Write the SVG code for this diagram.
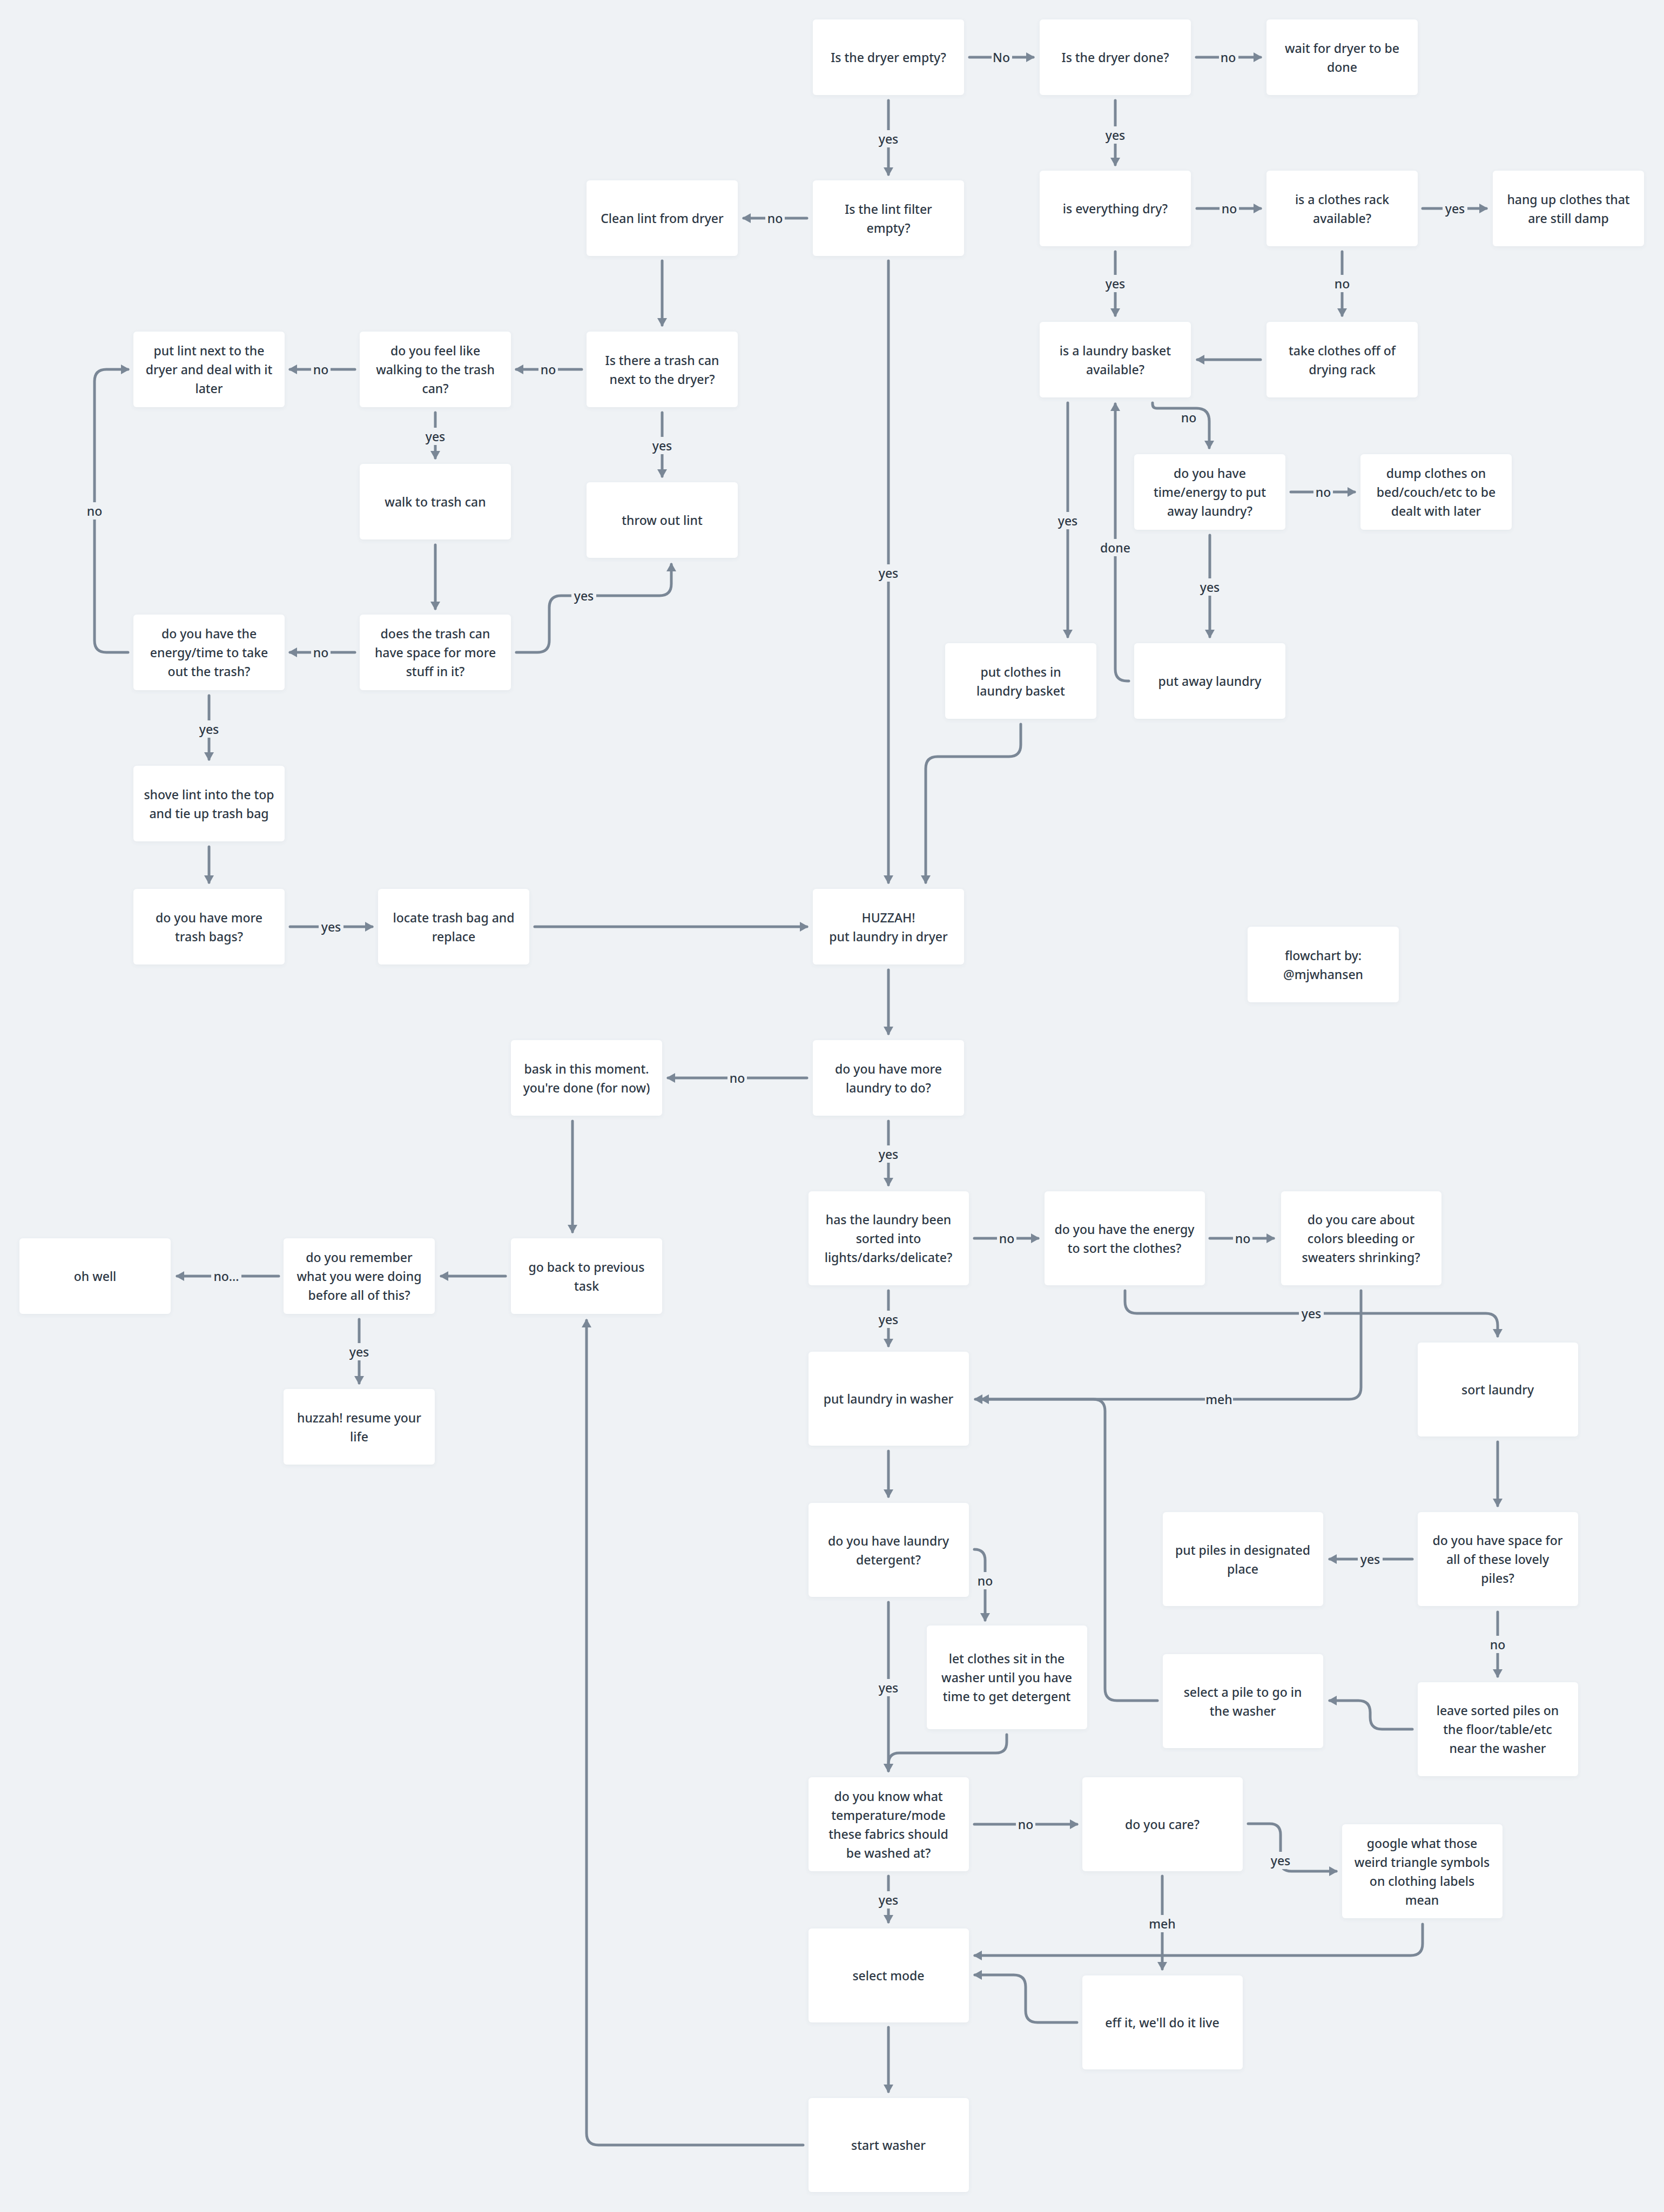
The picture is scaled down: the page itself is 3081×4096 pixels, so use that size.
<svg xmlns="http://www.w3.org/2000/svg" width="3081" height="4096" viewBox="0 0 3081 4096">
<defs>
  <style>
    .node rect { fill: #ffffff; filter: url(#sh); }
    .node text, .lbl text { font-family: "Noto Sans", "DejaVu Sans", sans-serif; font-size: 23px; font-weight: 500; fill: #2c3744; text-anchor: middle; dominant-baseline: central; }
    .edge { fill: none; stroke: #7a8796; stroke-width: 5; stroke-linecap: round; stroke-linejoin: round; marker-end: url(#ah); }
    .lbl rect { fill: #eff2f5; }
  </style>
  <filter id="sh" x="-10%" y="-10%" width="120%" height="130%">
    <feDropShadow dx="0" dy="2" stdDeviation="3" flood-color="#5a6b7c" flood-opacity="0.08"/>
  </filter>
  <marker id="ah" viewBox="0 0 16 20" refX="13" refY="10" markerWidth="16" markerHeight="20" markerUnits="userSpaceOnUse" orient="auto">
    <path d="M0,1 L16,10 L0,19 z" fill="#7a8796"/>
  </marker>
</defs>
<rect width="3081" height="4096" fill="#eff2f5"/>

<!-- connectors -->
<g id="connectors">
  <path class="edge" d="M1795 106 H1913"/>
  <path class="edge" d="M2215 106 H2334"/>
  <path class="edge" d="M1645 186 V323"/>
  <path class="edge" d="M2065 186 V305"/>
  <path class="edge" d="M1494 404 H1377"/>
  <path class="edge" d="M2216 386 H2334"/>
  <path class="edge" d="M2634 386 H2752"/>
  <path class="edge" d="M2485 466 V584"/>
  <path class="edge" d="M2065 466 V584"/>
  <path class="edge" d="M1226 483 V602"/>
  <path class="edge" d="M1645 483 V1634"/>
  <path class="edge" d="M1077 684 H956"/>
  <path class="edge" d="M657 684 H537"/>
  <path class="edge" d="M806 764 V848"/>
  <path class="edge" d="M1226 764 V882"/>
  <path class="edge" d="M806 1009 V1127"/>
  <path class="edge" d="M956 1208 H995 Q1017 1208 1017 1186 V1125 Q1017 1103 1039 1103 H1221 Q1243 1103 1243 1081 V1045"/>
  <path class="edge" d="M657 1208 H537"/>
  <path class="edge" d="M237 1208 H197 Q175 1208 175 1186 V706 Q175 684 197 684 H237"/>
  <path class="edge" d="M387 1288 V1406"/>
  <path class="edge" d="M387 1568 V1634"/>
  <path class="edge" d="M537 1716 H689"/>
  <path class="edge" d="M990 1716 H1494"/>
  <path class="edge" d="M2334 666 H2217"/>
  <path class="edge" d="M1977 746 V1179"/>
  <path class="edge" d="M2090 1261 H2087 Q2065 1261 2065 1239 V748"/>
  <path class="edge" d="M2134 746 V748 Q2134 756 2142 756 H2215 Q2239 756 2239 780 V829"/>
  <path class="edge" d="M2390 911 H2508"/>
  <path class="edge" d="M2240 991 V1179"/>
  <path class="edge" d="M1890 1341 V1379 Q1890 1401 1868 1401 H1736 Q1714 1401 1714 1423 V1634"/>
  <path class="edge" d="M1645 1796 V1914"/>
  <path class="edge" d="M1494 1996 H1237"/>
  <path class="edge" d="M1060 2076 V2281"/>
  <path class="edge" d="M936 2363 H817"/>
  <path class="edge" d="M516 2363 H328"/>
  <path class="edge" d="M665 2443 V2561"/>
  <path class="edge" d="M1645 2076 V2194"/>
  <path class="edge" d="M1804 2293 H1922"/>
  <path class="edge" d="M2240 2293 H2358"/>
  <path class="edge" d="M1645 2390 V2492"/>
  <path class="edge" d="M2083 2390 V2410 Q2083 2432 2105 2432 H2751 Q2773 2432 2773 2454 V2474"/>
  <path class="edge" d="M2520 2390 V2569 Q2520 2591 2498 2591 H1806"/>
  <path class="edge" d="M2143 3149 H2068 Q2046 3149 2046 3127 V2613 Q2046 2591 2024 2591 H1818"/>
  <path class="edge" d="M2773 2670 V2788"/>
  <path class="edge" d="M1645 2687 V2771"/>
  <path class="edge" d="M2615 2887 H2462"/>
  <path class="edge" d="M2773 2985 V3104"/>
  <path class="edge" d="M2615 3202 H2559 Q2537 3202 2537 3180 V3171 Q2537 3149 2515 3149 H2462"/>
  <path class="edge" d="M1645 2967 V3279"/>
  <path class="edge" d="M1804 2869 Q1824 2869 1824 2889 V3000"/>
  <path class="edge" d="M1864 3212 V3226 Q1864 3246 1844 3246 H1665 Q1645 3246 1645 3266 V3279"/>
  <path class="edge" d="M1804 3378 H1994"/>
  <path class="edge" d="M1645 3474 V3559"/>
  <path class="edge" d="M2311 3377 H2351 Q2371 3377 2371 3397 V3445 Q2371 3465 2391 3465 H2474"/>
  <path class="edge" d="M2152 3474 V3646"/>
  <path class="edge" d="M2634 3563 V3599 Q2634 3621 2612 3621 H1805"/>
  <path class="edge" d="M1994 3745 H1921 Q1899 3745 1899 3723 V3679 Q1899 3657 1877 3657 H1805"/>
  <path class="edge" d="M1645 3754 V3873"/>
  <path class="edge" d="M1487 3972 H1108 Q1086 3972 1086 3950 V2445"/>

  <!-- connector labels -->
  <g class="lbl"><rect x="1836" y="91" width="38" height="30"/><text x="1854" y="106">No</text></g>
  <g class="lbl"><rect x="2257" y="91" width="36" height="30"/><text x="2274" y="106">no</text></g>
  <g class="lbl"><rect x="1622" y="241" width="46" height="32"/><text x="1645" y="257">yes</text></g>
  <g class="lbl"><rect x="2042" y="234" width="46" height="32"/><text x="2065" y="250">yes</text></g>
  <g class="lbl"><rect x="1417" y="389" width="36" height="30"/><text x="1435" y="404">no</text></g>
  <g class="lbl"><rect x="2258" y="371" width="36" height="30"/><text x="2276" y="386">no</text></g>
  <g class="lbl"><rect x="2671" y="371" width="46" height="30"/><text x="2694" y="386">yes</text></g>
  <g class="lbl"><rect x="2467" y="509" width="36" height="32"/><text x="2485" y="525">no</text></g>
  <g class="lbl"><rect x="2042" y="509" width="46" height="32"/><text x="2065" y="525">yes</text></g>
  <g class="lbl"><rect x="1622" y="1045" width="46" height="32"/><text x="1645" y="1061">yes</text></g>
  <g class="lbl"><rect x="997" y="669" width="36" height="30"/><text x="1015" y="684">no</text></g>
  <g class="lbl"><rect x="576" y="669" width="36" height="30"/><text x="594" y="684">no</text></g>
  <g class="lbl"><rect x="783" y="792" width="46" height="32"/><text x="806" y="808">yes</text></g>
  <g class="lbl"><rect x="1203" y="809" width="46" height="32"/><text x="1226" y="825">yes</text></g>
  <g class="lbl"><rect x="1058" y="1088" width="46" height="30"/><text x="1081" y="1103">yes</text></g>
  <g class="lbl"><rect x="576" y="1193" width="36" height="30"/><text x="594" y="1208">no</text></g>
  <g class="lbl"><rect x="157" y="930" width="36" height="32"/><text x="175" y="946">no</text></g>
  <g class="lbl"><rect x="364" y="1334" width="46" height="32"/><text x="387" y="1350">yes</text></g>
  <g class="lbl"><rect x="590" y="1701" width="46" height="30"/><text x="613" y="1716">yes</text></g>
  <g class="lbl"><rect x="1954" y="948" width="46" height="32"/><text x="1977" y="964">yes</text></g>
  <g class="lbl"><rect x="2036" y="998" width="58" height="32"/><text x="2065" y="1014">done</text></g>
  <g class="lbl"><rect x="2182" y="759" width="38" height="30"/><text x="2201" y="773">no</text></g>
  <g class="lbl"><rect x="2432" y="896" width="36" height="30"/><text x="2450" y="911">no</text></g>
  <g class="lbl"><rect x="2217" y="1071" width="46" height="32"/><text x="2240" y="1087">yes</text></g>
  <g class="lbl"><rect x="1347" y="1981" width="36" height="30"/><text x="1365" y="1996">no</text></g>
  <g class="lbl"><rect x="391" y="2348" width="56" height="30"/><text x="419" y="2363">no...</text></g>
  <g class="lbl"><rect x="642" y="2487" width="46" height="32"/><text x="665" y="2503">yes</text></g>
  <g class="lbl"><rect x="1622" y="2121" width="46" height="32"/><text x="1645" y="2137">yes</text></g>
  <g class="lbl"><rect x="1846" y="2278" width="36" height="30"/><text x="1864" y="2293">no</text></g>
  <g class="lbl"><rect x="2283" y="2278" width="36" height="30"/><text x="2301" y="2293">no</text></g>
  <g class="lbl"><rect x="1622" y="2427" width="46" height="32"/><text x="1645" y="2443">yes</text></g>
  <g class="lbl"><rect x="2405" y="2417" width="46" height="30"/><text x="2428" y="2432">yes</text></g>
  <g class="lbl"><rect x="2231" y="2576" width="52" height="30"/><text x="2257" y="2591">meh</text></g>
  <g class="lbl"><rect x="2514" y="2872" width="46" height="30"/><text x="2537" y="2887">yes</text></g>
  <g class="lbl"><rect x="2755" y="3029" width="36" height="32"/><text x="2773" y="3045">no</text></g>
  <g class="lbl"><rect x="1622" y="3109" width="46" height="32"/><text x="1645" y="3125">yes</text></g>
  <g class="lbl"><rect x="1806" y="2911" width="36" height="32"/><text x="1824" y="2927">no</text></g>
  <g class="lbl"><rect x="1881" y="3363" width="36" height="30"/><text x="1899" y="3378">no</text></g>
  <g class="lbl"><rect x="2348" y="3429" width="46" height="32"/><text x="2371" y="3445">yes</text></g>
  <g class="lbl"><rect x="2126" y="3546" width="52" height="32"/><text x="2152" y="3562">meh</text></g>
  <g class="lbl"><rect x="1622" y="3502" width="46" height="32"/><text x="1645" y="3518">yes</text></g>
</g>

<!-- dryer section -->
<g id="n-dryer-empty" class="node"><rect x="1505" y="36" width="280" height="140" rx="6"/><text x="1645" y="106">Is the dryer empty?</text></g>
<g id="n-dryer-done" class="node"><rect x="1925" y="36" width="280" height="140" rx="6"/><text x="2065" y="106">Is the dryer done?</text></g>
<g id="n-wait-dryer" class="node"><rect x="2345" y="36" width="280" height="140" rx="6"/><text x="2485" y="88.5">wait for dryer to be</text><text x="2485" y="123.5">done</text></g>
<g id="n-lint-filter" class="node"><rect x="1505" y="334" width="280" height="140" rx="6"/><text x="1645" y="386.5">Is the lint filter</text><text x="1645" y="421.5">empty?</text></g>
<g id="n-clean-lint" class="node"><rect x="1086" y="334" width="280" height="140" rx="6"/><text x="1226" y="404">Clean lint from dryer</text></g>
<g id="n-everything-dry" class="node"><rect x="1925" y="316" width="280" height="140" rx="6"/><text x="2065" y="386">is everything dry?</text></g>
<g id="n-clothes-rack" class="node"><rect x="2345" y="316" width="280" height="140" rx="6"/><text x="2485" y="368.5">is a clothes rack</text><text x="2485" y="403.5">available?</text></g>
<g id="n-hang-up" class="node"><rect x="2764" y="316" width="280" height="140" rx="6"/><text x="2904" y="368.5">hang up clothes that</text><text x="2904" y="403.5">are still damp</text></g>
<g id="n-put-lint-next" class="node"><rect x="247" y="614" width="280" height="140" rx="6"/><text x="387" y="649">put lint next to the</text><text x="387" y="684">dryer and deal with it</text><text x="387" y="719">later</text></g>
<g id="n-feel-walking" class="node"><rect x="666" y="614" width="280" height="140" rx="6"/><text x="806" y="649">do you feel like</text><text x="806" y="684">walking to the trash</text><text x="806" y="719">can?</text></g>
<g id="n-trash-next" class="node"><rect x="1086" y="614" width="280" height="140" rx="6"/><text x="1226" y="666.5">Is there a trash can</text><text x="1226" y="701.5">next to the dryer?</text></g>
<g id="n-basket-available" class="node"><rect x="1925" y="596" width="280" height="140" rx="6"/><text x="2065" y="648.5">is a laundry basket</text><text x="2065" y="683.5">available?</text></g>
<g id="n-take-clothes" class="node"><rect x="2345" y="596" width="280" height="140" rx="6"/><text x="2485" y="648.5">take clothes off of</text><text x="2485" y="683.5">drying rack</text></g>
<g id="n-walk-trash" class="node"><rect x="666" y="859" width="280" height="140" rx="6"/><text x="806" y="929">walk to trash can</text></g>
<g id="n-throw-lint" class="node"><rect x="1086" y="893" width="280" height="140" rx="6"/><text x="1226" y="963">throw out lint</text></g>
<g id="n-time-energy" class="node"><rect x="2100" y="841" width="280" height="140" rx="6"/><text x="2240" y="876">do you have</text><text x="2240" y="911">time/energy to put</text><text x="2240" y="946">away laundry?</text></g>
<g id="n-dump-clothes" class="node"><rect x="2519" y="841" width="280" height="140" rx="6"/><text x="2659" y="876">dump clothes on</text><text x="2659" y="911">bed/couch/etc to be</text><text x="2659" y="946">dealt with later</text></g>
<g id="n-energy-trash" class="node"><rect x="247" y="1138" width="280" height="140" rx="6"/><text x="387" y="1173">do you have the</text><text x="387" y="1208">energy/time to take</text><text x="387" y="1243">out the trash?</text></g>
<g id="n-trash-space" class="node"><rect x="666" y="1138" width="280" height="140" rx="6"/><text x="806" y="1173">does the trash can</text><text x="806" y="1208">have space for more</text><text x="806" y="1243">stuff in it?</text></g>
<g id="n-put-basket" class="node"><rect x="1750" y="1191" width="280" height="140" rx="6"/><text x="1890" y="1243.5">put clothes in</text><text x="1890" y="1278.5">laundry basket</text></g>
<g id="n-put-away" class="node"><rect x="2100" y="1191" width="280" height="140" rx="6"/><text x="2240" y="1261">put away laundry</text></g>
<g id="n-shove-lint" class="node"><rect x="247" y="1418" width="280" height="140" rx="6"/><text x="387" y="1470.5">shove lint into the top</text><text x="387" y="1505.5">and tie up trash bag</text></g>
<g id="n-more-bags" class="node"><rect x="247" y="1646" width="280" height="140" rx="6"/><text x="387" y="1698.5">do you have more</text><text x="387" y="1733.5">trash bags?</text></g>
<g id="n-locate-bag" class="node"><rect x="700" y="1646" width="280" height="140" rx="6"/><text x="840" y="1698.5">locate trash bag and</text><text x="840" y="1733.5">replace</text></g>
<g id="n-huzzah" class="node"><rect x="1505" y="1646" width="280" height="140" rx="6"/><text x="1645" y="1698.5">HUZZAH!</text><text x="1645" y="1733.5">put laundry in dryer</text></g>
<g id="n-credit" class="node"><rect x="2310" y="1716" width="280" height="140" rx="6"/><text x="2450" y="1768.5">flowchart by:</text><text x="2450" y="1803.5">@mjwhansen</text></g>

<!-- wrap-up section -->
<g id="n-bask" class="node"><rect x="946" y="1926" width="280" height="140" rx="6"/><text x="1086" y="1978.5">bask in this moment.</text><text x="1086" y="2013.5">you're done (for now)</text></g>
<g id="n-more-laundry" class="node"><rect x="1505" y="1926" width="280" height="140" rx="6"/><text x="1645" y="1978.5">do you have more</text><text x="1645" y="2013.5">laundry to do?</text></g>
<g id="n-oh-well" class="node"><rect x="36" y="2293" width="280" height="140" rx="6"/><text x="176" y="2363">oh well</text></g>
<g id="n-remember" class="node"><rect x="525" y="2293" width="280" height="140" rx="6"/><text x="665" y="2328">do you remember</text><text x="665" y="2363">what you were doing</text><text x="665" y="2398">before all of this?</text></g>
<g id="n-go-back" class="node"><rect x="946" y="2293" width="280" height="140" rx="6"/><text x="1086" y="2345.5">go back to previous</text><text x="1086" y="2380.5">task</text></g>
<g id="n-resume" class="node"><rect x="525" y="2572" width="280" height="140" rx="6"/><text x="665" y="2624.5">huzzah! resume your</text><text x="665" y="2659.5">life</text></g>

<!-- washer section -->
<g id="n-sorted" class="node"><rect x="1497" y="2206" width="297" height="174" rx="6"/><text x="1645" y="2258">has the laundry been</text><text x="1645" y="2293">sorted into</text><text x="1645" y="2328">lights/darks/delicate?</text></g>
<g id="n-energy-sort" class="node"><rect x="1934" y="2206" width="297" height="174" rx="6"/><text x="2082" y="2275.5">do you have the energy</text><text x="2082" y="2310.5">to sort the clothes?</text></g>
<g id="n-care-colors" class="node"><rect x="2372" y="2206" width="297" height="174" rx="6"/><text x="2520" y="2258">do you care about</text><text x="2520" y="2293">colors bleeding or</text><text x="2520" y="2328">sweaters shrinking?</text></g>
<g id="n-put-washer" class="node"><rect x="1497" y="2503" width="297" height="174" rx="6"/><text x="1645" y="2590">put laundry in washer</text></g>
<g id="n-sort-laundry" class="node"><rect x="2625" y="2486" width="297" height="174" rx="6"/><text x="2773" y="2573">sort laundry</text></g>
<g id="n-detergent" class="node"><rect x="1497" y="2783" width="297" height="174" rx="6"/><text x="1645" y="2852.5">do you have laundry</text><text x="1645" y="2887.5">detergent?</text></g>
<g id="n-put-piles" class="node"><rect x="2153" y="2800" width="297" height="174" rx="6"/><text x="2301" y="2869.5">put piles in designated</text><text x="2301" y="2904.5">place</text></g>
<g id="n-space-piles" class="node"><rect x="2625" y="2800" width="297" height="174" rx="6"/><text x="2773" y="2852">do you have space for</text><text x="2773" y="2887">all of these lovely</text><text x="2773" y="2922">piles?</text></g>
<g id="n-let-sit" class="node"><rect x="1716" y="3010" width="297" height="192" rx="6"/><text x="1864" y="3071">let clothes sit in the</text><text x="1864" y="3106">washer until you have</text><text x="1864" y="3141">time to get detergent</text></g>
<g id="n-select-pile" class="node"><rect x="2153" y="3063" width="297" height="174" rx="6"/><text x="2301" y="3132.5">select a pile to go in</text><text x="2301" y="3167.5">the washer</text></g>
<g id="n-leave-piles" class="node"><rect x="2625" y="3115" width="297" height="174" rx="6"/><text x="2773" y="3167">leave sorted piles on</text><text x="2773" y="3202">the floor/table/etc</text><text x="2773" y="3237">near the washer</text></g>
<g id="n-know-temp" class="node"><rect x="1497" y="3291" width="297" height="174" rx="6"/><text x="1645" y="3325.5">do you know what</text><text x="1645" y="3360.5">temperature/mode</text><text x="1645" y="3395.5">these fabrics should</text><text x="1645" y="3430.5">be washed at?</text></g>
<g id="n-do-care" class="node"><rect x="2004" y="3291" width="297" height="174" rx="6"/><text x="2152" y="3378">do you care?</text></g>
<g id="n-google" class="node"><rect x="2485" y="3378" width="297" height="174" rx="6"/><text x="2633" y="3412.5">google what those</text><text x="2633" y="3447.5">weird triangle symbols</text><text x="2633" y="3482.5">on clothing labels</text><text x="2633" y="3517.5">mean</text></g>
<g id="n-select-mode" class="node"><rect x="1497" y="3571" width="297" height="174" rx="6"/><text x="1645" y="3658">select mode</text></g>
<g id="n-eff-it" class="node"><rect x="2004" y="3658" width="297" height="174" rx="6"/><text x="2152" y="3745">eff it, we'll do it live</text></g>
<g id="n-start-washer" class="node"><rect x="1497" y="3885" width="297" height="174" rx="6"/><text x="1645" y="3972">start washer</text></g>
</svg>
